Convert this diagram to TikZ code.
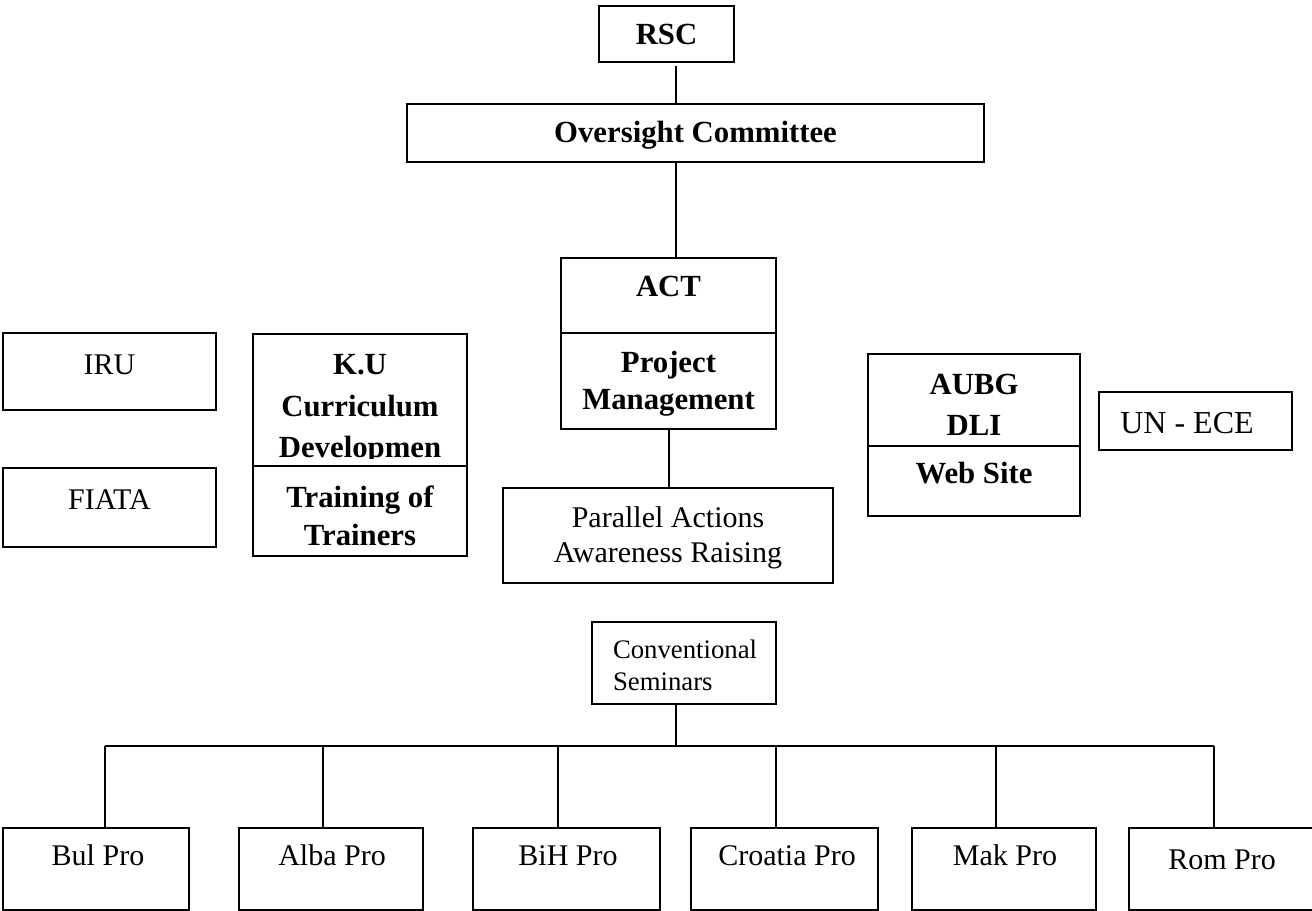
\documentclass[tikz,border=0pt]{standalone}
\usepackage{fontspec}
\setmainfont{Liberation Serif}
\usepackage{tikz}
\tikzset{
  box/.style 2 args={draw, inner sep=0pt, minimum width=#1*0.4pt, minimum height=#2*0.4pt},
  tb/.style={font=\fontsize{12.3}{14}\selectfont\bfseries, inner sep=0pt, anchor=base},
  tr/.style={font=\fontsize{12}{14}\selectfont, inner sep=0pt, anchor=base},
  ts/.style={font=\fontsize{10.7}{13}\selectfont, inner sep=0pt, anchor=base west},
}

\begin{document}
\begin{tikzpicture}[x=0.4pt,y=-0.4pt,line width=0.8pt]
                \useasboundingbox (0,0) rectangle (1312,911);
                % top of the chart
                \node[box={135}{56}] (rsc) at (666.5,34) {};
                \node[box={577}{58}] (oc) at (695.5,133) {};
                \node[box={215}{75}] (act) at (668.5,295.5) {};
                \node[box={215}{96}] (pm) at (668.5,381) {};
                \node[box={330}{95}] (par) at (668,535.5) {};
                \node[tb] (rsc-t) at (666.5,45) {RSC};
                \node[tb] (oc-t) at (695.5,143) {Oversight Committee};
                \node[tb] (act-t) at (668.5,297) {ACT};
                \node[tb] (pm-t1) at (668.5,373) {Project};
                \node[tb] (pm-t2) at (668.5,410) {Management};
                \node[tr] (par-t1) at (668,527) {Parallel Actions};
                \node[tr] (par-t2) at (668,562) {Awareness Raising};

                % partners
                \node[box={213}{77}] (iru) at (109.5,371.5) {};
                \node[box={213}{79}] (fiata) at (109.5,507.5) {};
                \node[tr] (iru-t) at (109.5,375) {IRU};
                \node[tr] (fiata-t) at (109.5,509) {FIATA};
                \node[box={214}{132}] (ku) at (360,400) {};
                \node[box={214}{90}] (tot) at (360,511) {};
                \node[tb] (ku-t1) at (360,375) {K.U};
                \node[tb] (ku-t2) at (360,417) {Curriculum};
                \begin{scope}
                    \clip (253,334) rectangle (467,459);
                    \node[tb] (ku-t3) at (360,457) {Developmen};
                \end{scope}
                \node[tb] (tot-t1) at (360,508) {Training of};
                \node[tb] (tot-t2) at (360,545) {Trainers};
                \node[box={212}{92}] (aubg) at (974,400) {};
                \node[box={212}{70}] (web) at (974,481) {};
                \node[tb] (aubg-t1) at (974,395) {AUBG};
                \node[tb] (aubg-t2) at (974,435) {DLI};
                \node[tb] (web-t) at (974,484) {Web Site};
                \node[box={193}{58}] (unece) at (1195.5,421) {};
                \node[tr,font=\fontsize{12.8}{15}\selectfont] (unece-t) at (1187,433) {UN - ECE};

                % seminars
                \node[box={184}{82}] (conv) at (684,663) {};
                \node[ts] (conv-t1) at (612,658) {Conventional};
                \node[ts] (conv-t2) at (612,690) {Seminars};
                \node[box={186}{82}] (bul) at (96,869) {};
                \node[box={184}{82}] (alba) at (331,869) {};
                \node[box={187}{82}] (bih) at (566.5,869) {};
                \node[box={187}{82}] (cro) at (784.5,869) {};
                \node[box={184}{82}] (mak) at (1004,869) {};
                \node[box={186}{82}] (rom) at (1222,869) {};
                \node[tr] (bul-t) at (98,865) {Bul Pro};
                \node[tr] (alba-t) at (332,865) {Alba Pro};
                \node[tr] (bih-t) at (568,865) {BiH Pro};
                \node[tr] (cro-t) at (787,865) {Croatia Pro};
                \node[tr] (mak-t) at (1005,865) {Mak Pro};
                \node[tr] (rom-t) at (1222,869) {Rom Pro};

                % connectors
                \coordinate (spine) at (676,0);
                \coordinate (busL) at (105,746);
                \coordinate (busR) at (1214,746);
                \draw[shorten >=1.2pt] (oc.north -| spine) -- (rsc.south -| spine);
                \draw (act.north -| spine) -- (oc.south -| spine);
                \draw (pm.south) -- (pm.south |- par.north);
                \draw (conv.south -| spine) -- (spine |- busL);
                \draw (busL) -- (busR);
                \foreach \n/\dx in {bul/9,alba/-8,bih/-8.5,cro/-8.5,mak/-8,rom/-8}
                    \draw (\n.north) ++(\dx,0) coordinate (\n-d) -- (\n-d |- busL);
\end{tikzpicture}
\end{document}
